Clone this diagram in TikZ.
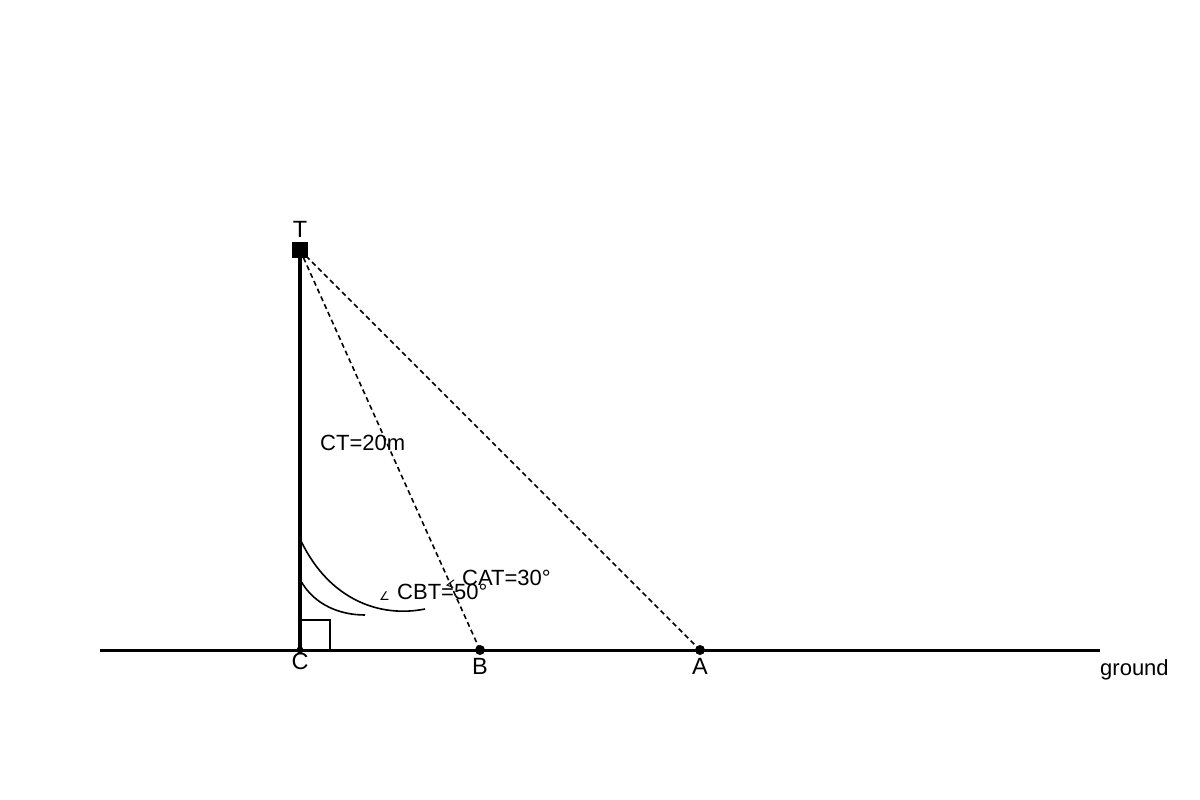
\documentclass[tikz,border=0pt]{standalone}
\usepackage{fontspec}
\setmainfont{Liberation Sans}
\newfontfamily\symfont{DejaVu Sans}
\begin{document}
\begin{tikzpicture}[x=1pt,y=-1pt,
  lbl/.style={inner sep=0pt,font=\fontsize{22}{26}\selectfont},
  ptlbl/.style={inner sep=0pt,anchor=base,font=\fontsize{23.5}{27}\selectfont},
  dashline/.style={line width=1.6pt,dash pattern=on 5pt off 3.5pt},
  thinarc/.style={line width=1.6pt},
  dot/.style={circle,fill=black,inner sep=0pt,minimum size=10pt}]
\useasboundingbox (0,0) rectangle (1200,800);
% ground
\coordinate (gL) at (100,650);
\coordinate (gR) at (1100,650);
\draw[line width=3pt] (gL) -- (gR);
% points
\coordinate (C) at (300,650);
\coordinate (T) at (300,250);
\node[dot] (B) at (480,650) {};
\node[dot] (A) at (700,650) {};
\node[circle,fill=black,inner sep=0pt,minimum size=7pt] (Cd) at (C) {};
% pole
\draw[line width=4pt] (C) -- (T);
\node[fill=black,inner sep=0pt,minimum size=16pt] (Tsq) at (T) {};
% dashed sight lines
\draw[dashline] (T) -- (B.center);
\draw[dashline] (T) -- (A.center);
% right angle
\draw[line width=1.6pt] (301,620) -- (330,620) -- (330,650);
% arcs
\draw[thinarc] (301.5,542) .. controls (330,600) and (380,618) .. (425,609);
\draw[thinarc] (301.5,582) .. controls (315,605) and (340,615) .. (365,615);
% labels
\node[ptlbl] (lT) at (300,237) {T};
\node[ptlbl] (lC) at (300,669) {C};
\node[ptlbl] (lB) at (480,674) {B};
\node[ptlbl] (lA) at (700,674) {A};
\node[lbl,anchor=base west] (lg) at (1100,675) {ground};
\node[lbl,anchor=base west] (lct) at (320,450.5) {CT=20m};
\node[lbl,anchor=base west] (lcbt) at (397,599.5) {CBT=50°};
\node[lbl,anchor=base west] (lcat) at (462,585) {CAT=30°};
\node[inner sep=0pt,anchor=base west,font=\symfont\fontsize{12}{14}\selectfont] (a1) at (379,600) {∠};
\node[inner sep=0pt,anchor=base west,font=\symfont\fontsize{11}{13}\selectfont,rotate=-20] (a2) at (445,585) {∠};
\end{tikzpicture}
\end{document}
